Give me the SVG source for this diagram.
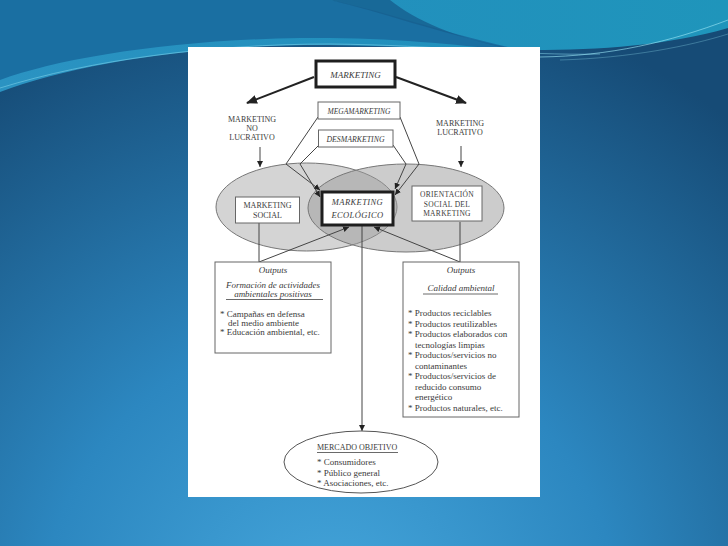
<svg xmlns="http://www.w3.org/2000/svg" width="728" height="546" viewBox="0 0 728 546">
<defs>
<radialGradient id="bg" cx="330" cy="620" r="640" gradientUnits="userSpaceOnUse">
<stop offset="0" stop-color="#46a7dc"/>
<stop offset="0.45" stop-color="#2c87c0"/>
<stop offset="1" stop-color="#164b76"/>
</radialGradient>
<linearGradient id="band" x1="0" y1="0" x2="728" y2="0" gradientUnits="userSpaceOnUse">
<stop offset="0" stop-color="#2b93c2"/>
<stop offset="0.5" stop-color="#2290bd"/>
<stop offset="1" stop-color="#1f95bb"/>
</linearGradient>
<marker id="big" markerUnits="userSpaceOnUse" markerWidth="11" markerHeight="9" refX="10" refY="4.5" orient="auto">
<path d="M0,0 L11,4.5 L0,9 Z" fill="#222"/>
</marker>
<marker id="sm" markerUnits="userSpaceOnUse" markerWidth="6" markerHeight="6" refX="6" refY="3" orient="auto">
<path d="M0,0 L6,3 L0,6 Z" fill="#222"/>
</marker>
<style>
.t{font-family:"Liberation Serif","Times New Roman",serif;fill:#3a3a3a;}
.c{text-anchor:middle;}
.i{font-style:italic;}
.cap{font-size:8px;}
.body{font-size:9px;}
.box{fill:#fff;stroke:#666;stroke-width:1;}
.thick{fill:#fff;stroke:#1e1e1e;stroke-width:3;}
.ln{fill:none;stroke:#444;stroke-width:1;}
.ul{stroke:#444;stroke-width:0.8;}
</style>
</defs>
<!-- background -->
<rect x="0" y="0" width="728" height="546" fill="url(#bg)"/>
<path d="M0,92 C70,66 190,44 330,45 C470,47 610,62 728,28 V0 H0 Z" fill="url(#band)"/>
<path d="M0,80 C60,58 170,40 300,38 C400,37 470,46 540,54 C450,36 390,12 330,0 H0 Z" fill="#1a6fa2"/>
<path d="M330,0 C390,14 450,38 540,54 C470,44 420,24 390,0 Z" fill="#175f8f" opacity="0.8"/>
<path d="M0,88 C90,60 210,44 330,44 C440,45 520,56 600,54" fill="none" stroke="#8fe0f2" stroke-width="0.8" opacity="0.6"/>
<path d="M540,57 C610,56 670,42 728,20" fill="none" stroke="#9ae6f5" stroke-width="0.9" opacity="0.7"/>
<path d="M560,60 C630,58 690,46 728,34" fill="none" stroke="#9ae6f5" stroke-width="0.6" opacity="0.5"/>
<!-- panel -->
<rect x="188" y="47" width="352" height="450" fill="#fff"/>

<g id="ellipses">
<ellipse id="ellipse-social" cx="306.5" cy="207" rx="90.5" ry="44" fill="#d4d4d4" stroke="#777" stroke-width="1"/>
<ellipse id="ellipse-lucrativo" cx="406" cy="208" rx="98" ry="44" fill="#999" fill-opacity="0.5" stroke="#777" stroke-width="1"/>
</g>

<g id="connectors">
<line x1="314" y1="77" x2="247" y2="103" stroke="#222" stroke-width="2" marker-end="url(#big)"/>
<line x1="396" y1="77" x2="466" y2="103" stroke="#222" stroke-width="2" marker-end="url(#big)"/>
<line class="ln" x1="260" y1="147" x2="260" y2="167" marker-end="url(#sm)"/>
<line class="ln" x1="461" y1="146" x2="461" y2="167" marker-end="url(#sm)"/>
<polyline class="ln" points="318,117 286,164 320,190" marker-end="url(#sm)"/>
<polyline class="ln" points="319,145 300,164 320,197" marker-end="url(#sm)"/>
<polyline class="ln" points="400,117 419,164 395,195" marker-end="url(#sm)"/>
<polyline class="ln" points="393,145 406,164 395,189" marker-end="url(#sm)"/>
<line class="ln" x1="259" y1="223" x2="259" y2="262"/>
<line class="ln" x1="460" y1="222" x2="460" y2="262"/>
<line class="ln" x1="259" y1="262" x2="349" y2="227" marker-end="url(#sm)"/>
<line class="ln" x1="460" y1="262" x2="374" y2="227" marker-end="url(#sm)"/>
<line class="ln" x1="362" y1="225" x2="362" y2="431" marker-end="url(#sm)"/>
</g>

<g id="marketing">
<rect class="thick" x="316" y="61" width="79" height="26"/>
<text class="t c i" x="355.5" y="77.5" font-size="9">MARKETING</text>
</g>
<g id="no-lucrativo">
<text class="t c cap" x="252" y="122">MARKETING</text>
<text class="t c cap" x="252" y="131">NO</text>
<text class="t c cap" x="252" y="140">LUCRATIVO</text>
</g>
<g id="lucrativo">
<text class="t c cap" x="460" y="126">MARKETING</text>
<text class="t c cap" x="460" y="135">LUCRATIVO</text>
</g>
<g id="megamarketing">
<rect class="box" x="318" y="102" width="82" height="17"/>
<text class="t c i" x="359" y="114" font-size="7.5">MEGAMARKETING</text>
</g>
<g id="desmarketing">
<rect class="box" x="318.5" y="130" width="74.5" height="17"/>
<text class="t c i" x="355.5" y="142" font-size="7.8">DESMARKETING</text>
</g>
<g id="marketing-social">
<rect class="box" x="235.5" y="197" width="64" height="26"/>
<text class="t c cap" x="267.5" y="208">MARKETING</text>
<text class="t c cap" x="267.5" y="218">SOCIAL</text>
</g>
<g id="marketing-ecologico">
<rect class="thick" x="322" y="192" width="71" height="33"/>
<text class="t c i" x="357.5" y="205" font-size="8.5" letter-spacing="0.4">MARKETING</text>
<text class="t c i" x="357.5" y="218" font-size="8.5" letter-spacing="0.4">ECOLÓGICO</text>
</g>
<g id="orientacion-social">
<rect class="box" x="412" y="186" width="70" height="35"/>
<text class="t c" x="447" y="197" font-size="7.5" letter-spacing="0.3">ORIENTACIÓN</text>
<text class="t c" x="447" y="206.5" font-size="7.5" letter-spacing="0.3">SOCIAL DEL</text>
<text class="t c" x="447" y="216" font-size="7.5" letter-spacing="0.3">MARKETING</text>
</g>
<g id="outputs-social">
<rect class="box" x="215" y="262" width="116" height="91"/>
<text class="t c i body" x="273" y="273">Outputs</text>
<text class="t c i body" x="273" y="288">Formación de actividades</text>
<text class="t c i body" x="273" y="297">ambientales positivas</text>
<line class="ul" x1="226" y1="299.5" x2="323" y2="299.5"/>
<text class="t body" x="220" y="317">* Campañas en defensa</text>
<text class="t body" x="228" y="326">del medio ambiente</text>
<text class="t body" x="220" y="335" font-size="8.7">* Educación ambiental, etc.</text>
</g>
<g id="outputs-calidad">
<rect class="box" x="403" y="262" width="116" height="155"/>
<text class="t c i body" x="461" y="273">Outputs</text>
<text class="t c i body" x="461" y="291">Calidad ambiental</text>
<line class="ul" x1="423" y1="294" x2="498" y2="294"/>
<text class="t body" x="408" y="316">* Productos reciclables</text>
<text class="t body" x="408" y="326.5">* Productos reutilizables</text>
<text class="t body" x="408" y="337">* Productos elaborados con</text>
<text class="t body" x="415" y="347.5">tecnologías limpias</text>
<text class="t body" x="408" y="358">* Productos/servicios no</text>
<text class="t body" x="415" y="368.5">contaminantes</text>
<text class="t body" x="408" y="379">* Productos/servicios de</text>
<text class="t body" x="415" y="389.5">reducido consumo</text>
<text class="t body" x="415" y="400">energético</text>
<text class="t body" x="408" y="411">* Productos naturales, etc.</text>
</g>
<g id="mercado-objetivo">
<ellipse cx="361" cy="462" rx="77" ry="31" fill="#fff" stroke="#555" stroke-width="1"/>
<text class="t cap" x="317" y="450">MERCADO OBJETIVO</text>
<line class="ul" x1="317" y1="452.5" x2="398" y2="452.5"/>
<text class="t body" x="317" y="465">* Consumidores</text>
<text class="t body" x="317" y="475.5">* Público general</text>
<text class="t body" x="317" y="486">* Asociaciones, etc.</text>
</g>
</svg>
